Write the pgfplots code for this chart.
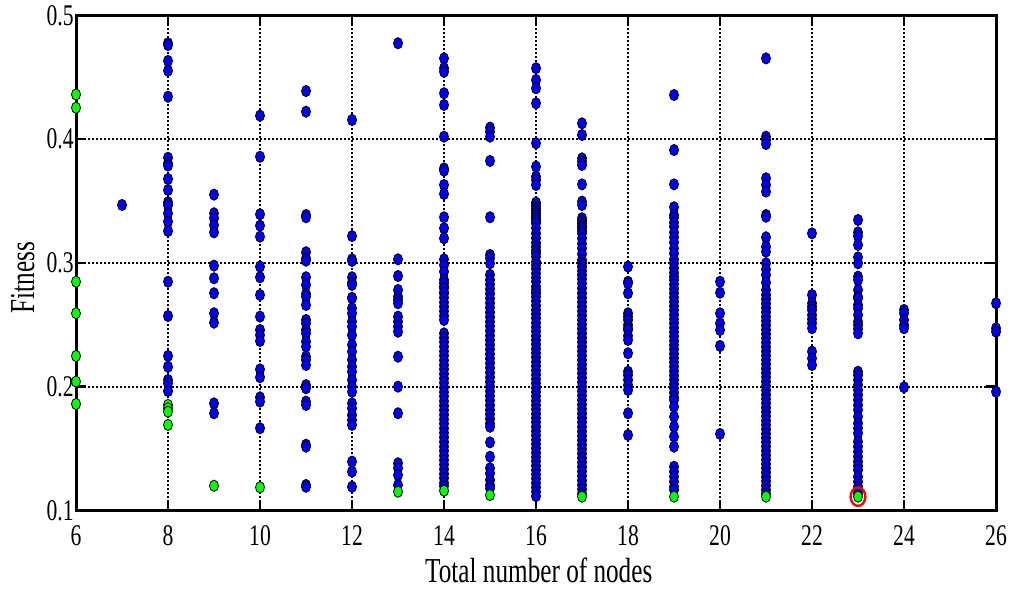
\documentclass[border=0pt]{standalone}
\usepackage{fontspec}
\setmainfont{Liberation Serif}[FakeStretch=0.72]
\usepackage{pgfplots}
\pgfplotsset{compat=1.18}
\definecolor{mblue}{rgb}{0,0,1}
\definecolor{mgreen}{rgb}{0,1,0}
\begin{document}
\begin{tikzpicture}
\begin{axis}[name=ax, scale only axis, width=460pt, height=247.5pt,
  xmin=6, xmax=26, ymin=0.1, ymax=0.5, clip=false,
  xtick={6,8,...,26}, ytick={0.1,0.2,0.3,0.4,0.5},
  /pgf/number format/assume math mode=true,
  yticklabel style={/pgf/number format/fixed, /pgf/number format/precision=1, inner xsep=1pt},
  xticklabel style={anchor=base, yshift=-17.5pt},
  ticklabel style={font=\fontsize{15}{17}\selectfont},
  label style={font=\fontsize{17.5}{20}\selectfont},
  xlabel={Total number of nodes}, ylabel={Fitness},
  xlabel style={at={(axis description cs:0.503,-0.1455)}, anchor=base},
  ylabel style={at={(axis description cs:-0.058,0.47)}, anchor=center},
  axis line style={line width=1.5pt},
  major tick length=5pt, tick style={line width=1.2pt, black},
  grid=major, grid style={black, line width=1pt, dash pattern=on 1pt off 1pt},
]
\addplot[only marks, mark=*, mark size=2.25pt, mark options={fill=mblue, draw=black, line width=0.4pt, yscale=1.25}] coordinates {
(7,0.3467)
(8,0.4774)(8,0.476)(8,0.4631)(8,0.4552)(8,0.4342)(8,0.3849)(8,0.3804)(8,0.3785)(8,0.3677)(8,0.3588)(8,0.3489)(8,0.3467)(8,0.34)(8,0.3332)(8,0.3257)(8,0.2847)(8,0.257)(8,0.2247)(8,0.216)(8,0.2053)(8,0.2026)(8,0.1964)
(9,0.3551)(9,0.34)(9,0.336)(9,0.3305)(9,0.3246)(9,0.2977)(9,0.2875)(9,0.2754)(9,0.2592)(9,0.2516)(9,0.1864)(9,0.1784)
(10,0.4189)(10,0.3857)(10,0.3392)(10,0.33)(10,0.3211)(10,0.2969)(10,0.2883)(10,0.274)(10,0.2565)(10,0.2457)(10,0.2416)(10,0.2368)(10,0.2139)(10,0.2075)(10,0.1913)(10,0.1878)(10,0.1663)
(11,0.4388)(11,0.4221)(11,0.3386)(11,0.3368)(11,0.3085)(11,0.3036)(11,0.3017)(11,0.2883)(11,0.2821)(11,0.2748)(11,0.2726)(11,0.2659)(11,0.2538)(11,0.2511)(11,0.2457)(11,0.243)(11,0.2363)(11,0.2322)(11,0.2241)(11,0.2215)(11,0.2174)(11,0.2012)(11,0.1986)(11,0.1878)(11,0.1851)(11,0.153)(11,0.1514)(11,0.1204)(11,0.119)
(12,0.4154)(12,0.3216)(12,0.3028)(12,0.3015)(12,0.2883)(12,0.284)(12,0.2718)(12,0.2821)(12,0.2713)(12,0.2632)(12,0.2592)(12,0.2524)(12,0.2484)(12,0.2416)(12,0.2336)(12,0.2282)(12,0.2215)(12,0.2161)(12,0.212)(12,0.2053)(12,0.1999)(12,0.1958)(12,0.1864)(12,0.1824)(12,0.177)(12,0.1729)(12,0.169)(12,0.1393)(12,0.1312)(12,0.119)
(13,0.4774)(13,0.3028)(13,0.2893)(13,0.278)(13,0.2726)(13,0.27)(13,0.2673)(13,0.2565)(13,0.2524)(13,0.2484)(13,0.2443)(13,0.2241)(13,0.1999)(13,0.1784)(13,0.138)(13,0.134)(13,0.1285)(13,0.1204)
(14,0.4652)(14,0.4572)(14,0.4544)(14,0.437)(14,0.4275)(14,0.4019)(14,0.3763)(14,0.3744)(14,0.3629)(14,0.3556)(14,0.3368)(14,0.3279)(14,0.3198)(14,0.3028)(14,0.2982)(14,0.2928)(14,0.2861)(14,0.2807)(14,0.2754)
(14,0.2835)(14,0.2795)(14,0.276)(14,0.2718)(14,0.268)(14,0.2645)(14,0.261)(14,0.2572)(14,0.2538)
(14,0.243)(14,0.2395)(14,0.236)(14,0.2322)(14,0.2285)(14,0.225)(14,0.2212)(14,0.2175)(14,0.214)(14,0.2102)(14,0.2065)(14,0.203)(14,0.1992)(14,0.1955)(14,0.192)(14,0.1882)(14,0.1845)(14,0.181)(14,0.1772)(14,0.1735)(14,0.17)(14,0.1662)(14,0.1625)(14,0.159)(14,0.1552)(14,0.1515)(14,0.148)(14,0.1442)(14,0.1405)(14,0.137)(14,0.1332)(14,0.1295)(14,0.126)(14,0.1222)(14,0.1195)
(15,0.4092)(15,0.406)(15,0.4019)(15,0.3823)(15,0.3368)(15,0.3063)(15,0.3036)(15,0.2996)(15,0.2902)
(15,0.2861)(15,0.2825)(15,0.2788)(15,0.275)(15,0.2712)(15,0.2675)(15,0.2638)(15,0.26)(15,0.2562)(15,0.2525)(15,0.2488)(15,0.245)(15,0.2412)(15,0.2375)(15,0.2338)(15,0.23)(15,0.2262)(15,0.2225)(15,0.2188)(15,0.215)(15,0.2112)(15,0.2075)(15,0.2038)(15,0.2)(15,0.1962)(15,0.1925)(15,0.1888)(15,0.185)(15,0.1812)(15,0.1775)(15,0.1738)(15,0.17)(15,0.1675)
(15,0.1549)(15,0.1433)(15,0.134)(15,0.1299)(15,0.1245)(15,0.1204)(15,0.1178)
(16,0.4572)(16,0.4477)(16,0.441)(16,0.4289)(16,0.3966)(16,0.3777)(16,0.3696)(16,0.3669)(16,0.3629)
(16,0.3486)(16,0.3462)(16,0.344)(16,0.342)(16,0.34)(16,0.338)(16,0.336)(16,0.334)(16,0.3319)(16,0.328)(16,0.3238)(16,0.32)(16,0.316)(16,0.313)(16,0.31)(16,0.3077)(16,0.305)(16,0.3009)(16,0.298)(16,0.295)(16,0.2915)(16,0.288)(16,0.2847)(16,0.2807)(16,0.278)(16,0.2754)
(16,0.2725)(16,0.269)(16,0.2655)(16,0.262)(16,0.2585)(16,0.255)(16,0.2515)(16,0.248)(16,0.2445)(16,0.241)(16,0.2375)(16,0.234)(16,0.2305)(16,0.227)(16,0.2235)(16,0.22)(16,0.2165)(16,0.213)(16,0.2095)(16,0.206)(16,0.2025)(16,0.199)(16,0.1955)(16,0.192)(16,0.1885)(16,0.185)(16,0.1815)(16,0.178)(16,0.1745)(16,0.171)(16,0.1675)(16,0.164)(16,0.1605)(16,0.157)(16,0.1535)(16,0.15)(16,0.1465)(16,0.143)(16,0.1395)(16,0.136)(16,0.1325)(16,0.129)(16,0.1255)(16,0.122)(16,0.1185)(16,0.115)(16,0.1115)
(17,0.4127)(17,0.4033)(17,0.3844)(17,0.3817)(17,0.379)(17,0.3634)(17,0.3494)(17,0.3467)(17,0.336)(17,0.334)(17,0.3319)(17,0.3295)(17,0.3279)(17,0.3257)(17,0.3238)(17,0.3198)(17,0.3155)(17,0.3117)(17,0.307)(17,0.3022)(17,0.2996)(17,0.2969)(17,0.2935)(17,0.2902)(17,0.287)(17,0.2834)(17,0.2794)
(17,0.2754)(17,0.2718)(17,0.2682)(17,0.2646)(17,0.261)(17,0.2574)(17,0.2538)(17,0.2502)(17,0.2466)(17,0.243)(17,0.2394)(17,0.2358)(17,0.2322)(17,0.2286)(17,0.225)(17,0.2214)(17,0.2178)(17,0.2142)(17,0.2106)(17,0.207)(17,0.2034)(17,0.1998)(17,0.1962)(17,0.1926)(17,0.189)(17,0.1854)(17,0.1818)(17,0.1782)(17,0.1746)(17,0.171)(17,0.1674)(17,0.1638)(17,0.1602)(17,0.1566)(17,0.153)(17,0.1494)(17,0.1458)(17,0.1422)(17,0.1386)(17,0.135)(17,0.1314)(17,0.1278)(17,0.1242)(17,0.1206)(17,0.117)(17,0.1135)
(18,0.2969)(18,0.2847)(18,0.2834)(18,0.2754)(18,0.2592)(18,0.2565)(18,0.2538)(18,0.2497)(18,0.247)(18,0.2457)(18,0.241)(18,0.2376)(18,0.2269)(18,0.212)(18,0.2093)(18,0.2053)(18,0.2012)(18,0.1972)(18,0.1784)(18,0.1608)
(19,0.4356)(19,0.3911)(19,0.3634)(19,0.3449)(19,0.3386)(19,0.3365)(19,0.3325)(19,0.3292)(19,0.3245)(19,0.3206)(19,0.3165)(19,0.3117)(19,0.3075)(19,0.3028)(19,0.2995)(19,0.2956)(19,0.292)(19,0.2888)
(19,0.2861)(19,0.2825)(19,0.279)(19,0.2755)(19,0.272)(19,0.2685)(19,0.265)(19,0.2615)(19,0.258)(19,0.2545)(19,0.251)(19,0.2475)(19,0.244)(19,0.2405)(19,0.237)(19,0.2335)(19,0.23)(19,0.2265)(19,0.223)(19,0.2195)(19,0.216)(19,0.2125)(19,0.209)(19,0.2055)(19,0.202)(19,0.1985)(19,0.195)(19,0.1915)(19,0.1892)
(19,0.1837)(19,0.1756)(19,0.1675)(19,0.1595)(19,0.1514)(19,0.1352)(19,0.1312)(19,0.1272)(19,0.1231)(19,0.119)(19,0.1164)
(20,0.2847)(20,0.2758)(20,0.2592)(20,0.2511)(20,0.2457)(20,0.2328)(20,0.1617)
(21,0.4652)(21,0.4019)(21,0.3992)(21,0.396)(21,0.3683)(21,0.3629)(21,0.3575)(21,0.3386)(21,0.3372)(21,0.3206)(21,0.313)(21,0.309)(21,0.2996)(21,0.2947)(21,0.2902)(21,0.284)(21,0.278)(21,0.274)
(21,0.2705)(21,0.267)(21,0.2635)(21,0.26)(21,0.2565)(21,0.253)(21,0.2495)(21,0.246)(21,0.2425)(21,0.239)(21,0.2355)(21,0.232)(21,0.2285)(21,0.225)(21,0.2215)(21,0.218)(21,0.2145)(21,0.211)(21,0.2075)(21,0.204)(21,0.2005)(21,0.197)(21,0.1935)(21,0.19)(21,0.1865)(21,0.183)(21,0.1795)(21,0.176)(21,0.1725)(21,0.169)(21,0.1655)(21,0.162)(21,0.1585)(21,0.155)(21,0.1515)(21,0.148)(21,0.1445)(21,0.141)(21,0.1375)(21,0.134)(21,0.1305)(21,0.127)(21,0.1235)(21,0.12)(21,0.1165)(21,0.1135)
(22,0.3238)(22,0.274)(22,0.2673)(22,0.2645)(22,0.2619)(22,0.2578)(22,0.2545)(22,0.2511)(22,0.2471)(22,0.2282)(22,0.2228)(22,0.2174)
(23,0.3346)(23,0.3246)(23,0.3216)(23,0.3144)(23,0.3044)(23,0.2996)(23,0.2888)(23,0.2861)(23,0.278)(23,0.2726)(23,0.2713)(23,0.2659)(23,0.2632)(23,0.2578)(23,0.2525)(23,0.2497)(23,0.2465)(23,0.243)
(23,0.212)(23,0.2093)(23,0.2053)(23,0.2012)(23,0.1972)(23,0.1932)(23,0.1892)(23,0.1851)(23,0.1811)(23,0.1757)(23,0.1703)(23,0.1663)(23,0.1622)(23,0.1555)(23,0.1515)(23,0.1474)(23,0.1434)(23,0.1393)(23,0.136)(23,0.1326)(23,0.1272)(23,0.1231)(23,0.119)(23,0.116)(23,0.1135)
(24,0.2619)(24,0.2592)(24,0.2538)(24,0.2497)(24,0.2471)(24,0.1994)
(26,0.2673)(26,0.2471)(26,0.2443)(26,0.1958)
};
\addplot[only marks, mark=*, mark size=2.25pt, mark options={fill=mgreen, draw=black, line width=0.4pt, yscale=1.25}] coordinates {
(6,0.436)(6,0.4253)(6,0.2847)(6,0.2592)(6,0.2247)(6,0.204)(6,0.1859)
(8,0.1851)(8,0.1824)(8,0.1797)(8,0.169)
(9,0.1198)(10,0.1186)(13,0.115)(14,0.1158)(15,0.1123)(17,0.111)(19,0.111)(21,0.111)(23,0.111)
};
\addplot[only marks, mark=o, mark size=3.7pt, mark options={draw=red, line width=1.2pt, yscale=1.25}] coordinates {(23,0.111)};
\end{axis}
\pgfresetboundingbox
\path[use as bounding box] ([shift={(-38pt,-40pt)}]ax.south west) rectangle ([shift={(9pt,7.65pt)}]ax.north east);
\end{tikzpicture}
\end{document}
